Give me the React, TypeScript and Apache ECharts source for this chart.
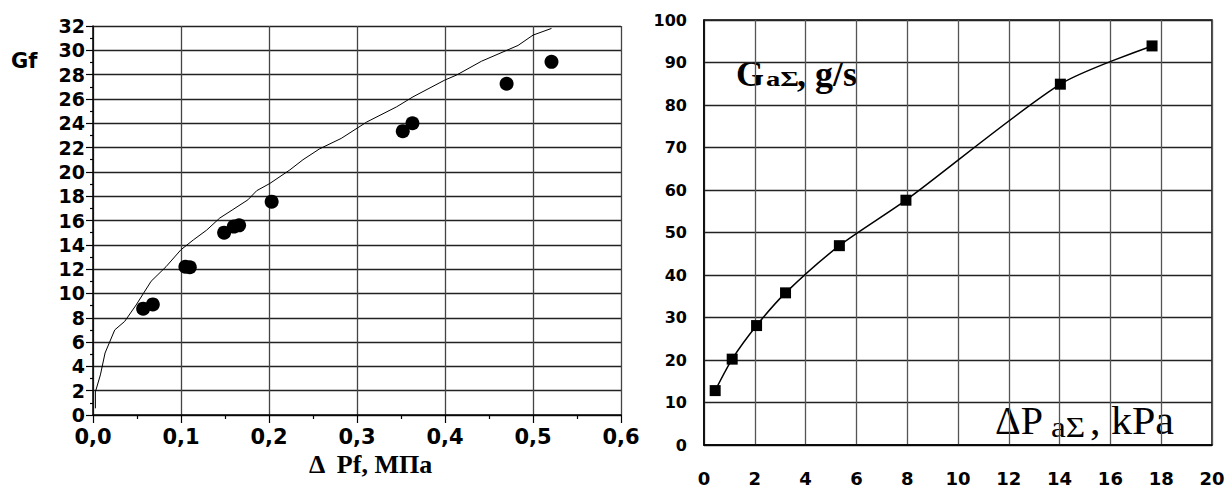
import React, { useEffect, useRef } from "react";
import * as echarts from "echarts";

// Left chart: Gf vs ΔPf
const curveDp = [0.0027, 0.0027, 0.0084, 0.0137, 0.0247, 0.036, 0.049, 0.066, 0.083, 0.1, 0.114, 0.129, 0.144, 0.159, 0.176, 0.186, 0.201, 0.2235, 0.2386, 0.2576, 0.282, 0.311, 0.345, 0.3636, 0.3997, 0.413, 0.4414, 0.483, 0.5, 0.521];
const curveGf = [0.55, 1.9, 3.3, 5.1, 7.0, 7.7, 9.05, 11.0, 12.2, 13.6, 14.4, 15.2, 16.2, 16.9, 17.7, 18.45, 19.05, 20.15, 21.0, 21.9, 22.75, 24.1, 25.35, 26.17, 27.55, 27.96, 29.1, 30.4, 31.25, 31.8];
const measDp = [0.057, 0.068, 0.105, 0.11, 0.149, 0.16, 0.166, 0.203, 0.352, 0.363, 0.47, 0.521];
const measGf = [8.75, 9.1, 12.2, 12.15, 15.0, 15.5, 15.6, 17.55, 23.35, 24.0, 27.25, 29.05];

// Right chart: GaΣ vs ΔPaΣ
const dpA = [0.44, 1.11, 2.07, 3.21, 5.33, 7.95, 14.03, 17.64];
const gA = [12.8, 20.2, 28.1, 35.8, 46.9, 57.6, 84.9, 93.9];

const leftTitleY = "Gf";
const leftTitleX = "Δ  Pf, МПа";

const sans = "DejaVu Sans";
const serif = "Liberation Serif";

export default function App() {
  const ref = useRef<HTMLDivElement>(null);
  useEffect(() => {
    document.body.style.margin = "0";
    const chart = echarts.init(ref.current!, null, { renderer: "svg" });
    const option: any = {
      animation: false,
      backgroundColor: "#fff",
      grid: [
        { left: 93, top: 26, right: 607, bottom: 74 },
        { left: 704, top: 20, right: 16, bottom: 44, show: true, borderColor: "#000", borderWidth: 1.5, backgroundColor: "transparent" },
      ],
      xAxis: [
        {
          type: "value", gridIndex: 0, min: 0, max: 0.6, interval: 0.1,
          axisLine: { show: true, lineStyle: { color: "#000", width: 1.5 } },
          axisTick: { show: true, length: 8, lineStyle: { color: "#000", width: 1.2 } },
          minorTick: { show: true, splitNumber: 2, length: 4, lineStyle: { color: "#000", width: 1.2 } },
          splitLine: { show: true, lineStyle: { color: "#444", width: 1.3 } },
          axisLabel: { margin: 11, fontFamily: sans, fontWeight: "bold", fontSize: 21, color: "#000", formatter: (v: number) => v.toFixed(1).replace(".", ",") },
        },
        {
          type: "value", gridIndex: 1, min: 0, max: 20, interval: 2,
          axisLine: { show: true, lineStyle: { color: "#000", width: 1.5 } },
          axisTick: { show: false },
          splitLine: { show: true, lineStyle: { color: "#555", width: 1.3 } },
          axisLabel: { margin: 24, fontFamily: sans, fontWeight: "bold", fontSize: 18, color: "#000" },
        },
      ],
      yAxis: [
        {
          type: "value", gridIndex: 0, min: 0, max: 32, interval: 2,
          axisLine: { show: true, lineStyle: { color: "#000", width: 1.5 } },
          axisTick: { show: true, length: 7, lineStyle: { color: "#000", width: 1.2 } },
          minorTick: { show: true, splitNumber: 2, length: 3, lineStyle: { color: "#000", width: 1.2 } },
          splitLine: { show: true, lineStyle: { color: "#222", width: 1.3 } },
          axisLabel: { margin: 8, fontFamily: sans, fontWeight: "bold", fontSize: 19, color: "#000" },
        },
        {
          type: "value", gridIndex: 1, min: 0, max: 100, interval: 10,
          axisLine: { show: true, lineStyle: { color: "#000", width: 1.5 } },
          axisTick: { show: false },
          splitLine: { show: true, lineStyle: { color: "#222", width: 1.3 } },
          axisLabel: { margin: 17, fontFamily: sans, fontWeight: "bold", fontSize: 16, color: "#000" },
        },
      ],
      series: [
        {
          type: "line", xAxisIndex: 0, yAxisIndex: 0, showSymbol: false, symbol: "none",
          lineStyle: { color: "#000", width: 1 },
          data: curveDp.map((x, i) => [x, curveGf[i]]),
        },
        {
          type: "scatter", xAxisIndex: 0, yAxisIndex: 0, symbol: "circle", symbolSize: 14,
          itemStyle: { color: "#000", opacity: 1 },
          data: measDp.map((x, i) => [x, measGf[i]]),
        },
        {
          type: "line", xAxisIndex: 1, yAxisIndex: 1, smooth: 0.25, symbol: "rect", symbolSize: 11,
          showSymbol: true,
          lineStyle: { color: "#000", width: 1.5 },
          itemStyle: { color: "#000", opacity: 1 },
          data: dpA.map((x, i) => [x, gA[i]]),
        },
      ],
      graphic: [
        { type: "text", left: 11, top: 50, style: { text: leftTitleY, fontFamily: sans, fontWeight: "bold", fontSize: 21, fill: "#000" } },
        { type: "text", x: 309, y: 464, style: { text: leftTitleX, fontFamily: serif, fontWeight: "bold", fontSize: 26, fill: "#000", verticalAlign: "middle" } },
        { type: "text", x: 736, y: 74, style: { text: "G", fontFamily: serif, fontWeight: "bold", fontSize: 36, fill: "#000", verticalAlign: "middle" } },
        { type: "text", x: 766, y: 78.6, scaleX: 1.3, style: { text: "aΣ", fontFamily: serif, fontWeight: "bold", fontSize: 22, fill: "#000", verticalAlign: "middle" } },
        { type: "text", x: 797, y: 74, style: { text: ", g/s", fontFamily: serif, fontWeight: "bold", fontSize: 36, fill: "#000", verticalAlign: "middle" } },
        { type: "text", x: 995, y: 420, style: { text: "ΔP", fontFamily: serif, fontSize: 40, fill: "#000", verticalAlign: "middle" } },
        { type: "text", x: 1051, y: 427.5, scaleX: 1.15, style: { text: "aΣ", fontFamily: serif, fontSize: 29, fill: "#000", verticalAlign: "middle" } },
        { type: "text", x: 1090, y: 420, scaleX: 1.05, style: { text: ", kPa", fontFamily: serif, fontSize: 40, fill: "#000", verticalAlign: "middle" } },
      ],
    };
    chart.setOption(option);
    return () => chart.dispose();
  }, []);
  return <div ref={ref} style={{ width: 1228, height: 489 }} />;
}
